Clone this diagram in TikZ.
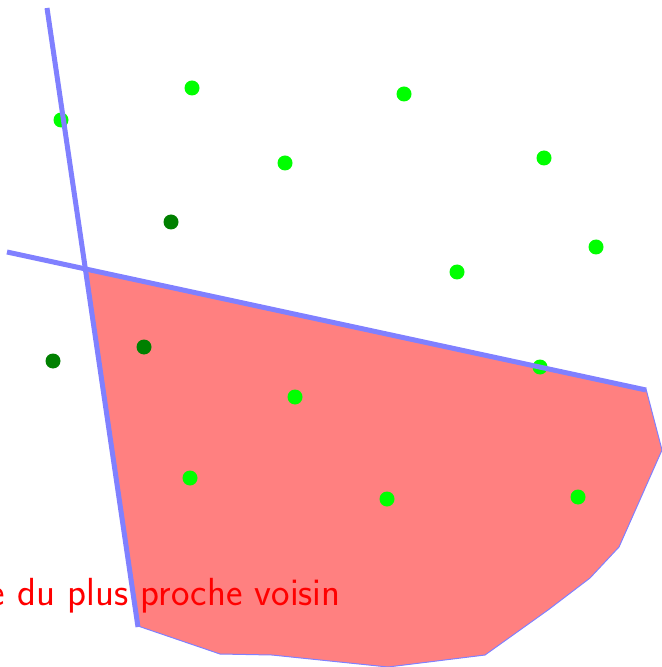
\documentclass[tikz,border=0pt]{standalone}
\usepackage{xcolor}
\usepackage{tikz}
\definecolor{LineB}{RGB}{128,128,255}
\definecolor{CellR}{RGB}{255,128,128}
\definecolor{PtL}{RGB}{0,255,0}
\definecolor{PtD}{RGB}{0,128,0}

\begin{document}
\begin{tikzpicture}[x=0.5pt,y=-0.5pt,
    pt/.style={circle,fill=PtL,inner sep=0pt,minimum size=7.5pt},
    ptd/.style={circle,fill=PtD,inner sep=0pt,minimum size=7.5pt},
    bis/.style={draw=LineB,line width=2.5pt},
    cell/.style={fill=CellR,draw=LineB,line width=0.5pt}]
  \useasboundingbox (0,0) rectangle (661,667);
  % cell of the nearest neighbour
  \fill[cell] (87,270) -- (646,389) -- (662,450) -- (619,547) -- (590,578)
    -- (548,610) -- (485,655) -- (388,667) -- (272,655) -- (220,654)
    -- (138,626) -- cycle;
  % sites
  \node[pt] (a1) at (61,120) {};
  \node[pt] (a2) at (192,88) {};
  \node[pt] (a3) at (404,94) {};
  \node[pt] (a4) at (285,163) {};
  \node[pt] (a5) at (544,158) {};
  \node[pt] (a6) at (596,247) {};
  \node[pt] (a7) at (457,272) {};
  \node[pt] (a8) at (540,367) {};
  \node[pt] (a9) at (295,397) {};
  \node[pt] (a10) at (190,478) {};
  \node[pt] (a11) at (387,499) {};
  \node[pt] (a12) at (578,497) {};
  \node[ptd] (b1) at (171,222) {};
  \node[ptd] (b2) at (53,361) {};
  \node[ptd] (b3) at (144,347) {};
  % bisectors
  \coordinate (u1) at (47,8);
  \coordinate (u2) at (138,627);
  \coordinate (v1) at (7,252);
  \coordinate (v2) at (646,390);
  \draw[bis] (u1) -- (u2);
  \draw[bis] (v1) -- (v2);
  \node[anchor=base east,inner sep=0pt,text=red,font=\fontsize{19.6}{23}\sffamily]
    (lab) at (341,605) {e du plus proche voisin};
\end{tikzpicture}
\end{document}
